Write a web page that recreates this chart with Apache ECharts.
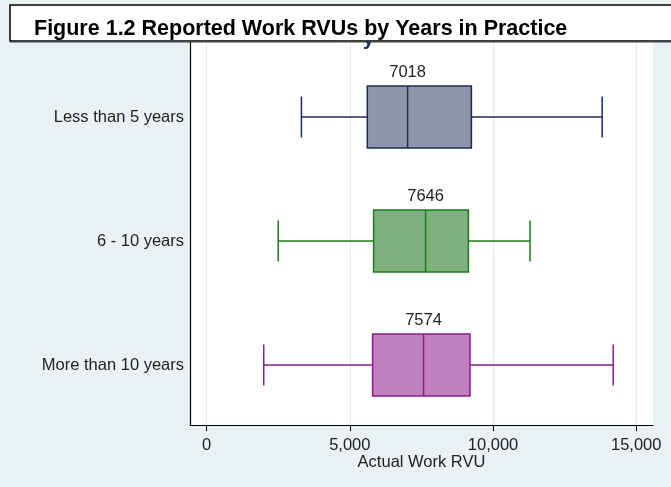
<!DOCTYPE html>
<html>
<head>
<meta charset="utf-8">
<script src="https://cdn.jsdelivr.net/npm/echarts@6/dist/echarts.min.js"></script>
<style>
html,body{margin:0;padding:0;background:#EAF1F3;}
#c{width:671px;height:487px;}
</style>
</head>
<body>
<div id="c"></div>
<script>
// ---- data ----
var categories = ['Less than 5 years', '6 - 10 years', 'More than 10 years'];
var whiskerLow = [3310, 2500, 1995];
var q1 = [5610, 5830, 5795];
var median = [7018, 7646, 7574];
var q3 = [9245, 9140, 9195];
var whiskerHigh = [13810, 11290, 14195];
var medianLabels = ['7018', '7646', '7574'];
var xTicks = [0, 5000, 10000, 15000];
var titleText = 'Figure 1.2 Reported Work RVUs by Years in Practice';
var xAxisTitle = 'Actual Work RVU';

var fills = ['#8F95A8', '#80B080', '#C080BE'];
var strokes = ['#1B2A58', '#1B7A1B', '#8E1C8C'];

var FONT = '"Liberation Sans", Arial, sans-serif';
var X_MIN = -580, X_MAX = 15585;

var data = categories.map(function (c, i) {
  return [i, whiskerLow[i], q1[i], median[i], q3[i], whiskerHigh[i]];
});

var chart = echarts.init(document.getElementById('c'), null, {renderer: 'canvas'});

var option = {
  backgroundColor: '#EAF1F3',
  animation: false,
  grid: [
    {left: 190, right: 18, top: 40, bottom: 62, show: true, backgroundColor: '#ffffff', borderWidth: 0, containLabel: false},
    {left: 190, right: 18, top: 55, bottom: 60, containLabel: false}
  ],
  xAxis: [
    {
      gridIndex: 0, type: 'value', min: X_MIN, max: X_MAX,
      name: xAxisTitle, nameLocation: 'middle', nameGap: 29, nameMoveOverlap: false,
      nameTextStyle: {fontFamily: FONT, fontSize: 16.5, color: '#222'},
      axisLine: {show: true, onZero: false, lineStyle: {color: '#000', width: 1.2}},
      axisTick: {show: true, length: 6, lineStyle: {color: '#000'}, customValues: xTicks},
      axisLabel: {
        customValues: xTicks, margin: 12, fontFamily: FONT, fontSize: 16.5, color: '#222',
        formatter: function (v) { return v.toLocaleString('en-US'); }
      },
      splitLine: {show: true, lineStyle: {color: '#E4ECEF', width: 1.2}}
    },
    {gridIndex: 1, type: 'value', min: X_MIN, max: X_MAX, show: false}
  ],
  yAxis: [
    {
      gridIndex: 0, type: 'value', min: 0, max: 1,
      axisLine: {show: true, onZero: false, lineStyle: {color: '#000', width: 1.2}},
      axisTick: {show: false}, axisLabel: {show: false}, splitLine: {show: false}
    },
    {
      gridIndex: 1, type: 'category', data: categories, inverse: true,
      axisLine: {show: false}, axisTick: {show: false},
      axisLabel: {fontFamily: FONT, fontSize: 16.5, color: '#222', margin: 6},
      splitLine: {show: false}
    }
  ],
  graphic: [
    {
      type: 'text', x: 363, y: 29, z: 90, silent: true,
      style: {text: 'y', font: 'bold 20px ' + FONT, fill: '#1B2A58'}
    },
    {
      type: 'rect', shape: {x: 10, y: 5, width: 680, height: 36}, z: 100,
      style: {fill: '#ffffff', stroke: '#000', lineWidth: 1.5}
    },
    {
      type: 'line', shape: {x1: 10, y1: 42, x2: 671, y2: 42}, z: 100,
      style: {stroke: '#444', lineWidth: 1}
    },
    {
      type: 'text', x: 34, y: 29, z: 101,
      style: {text: titleText, font: 'bold 21.5px ' + FONT, fill: '#000', verticalAlign: 'middle'}
    }
  ],
  series: [
    {
      type: 'custom',
      xAxisIndex: 1, yAxisIndex: 1,
      encode: {x: [1, 2, 3, 4, 5], y: 0},
      data: data,
      renderItem: function (params, api) {
        var idx = params.dataIndex;
        var cat = api.value(0);
        var pMin = api.coord([api.value(1), cat]);
        var pQ1 = api.coord([api.value(2), cat]);
        var pMed = api.coord([api.value(3), cat]);
        var pQ3 = api.coord([api.value(4), cat]);
        var pMax = api.coord([api.value(5), cat]);
        var band = api.size([0, 1])[1];
        var hb = band * 0.25;
        var hc = band * 0.165;
        var y = pMed[1];
        var st = {stroke: strokes[idx], lineWidth: 1.5, fill: null};
        return {
          type: 'group',
          children: [
            {type: 'line', shape: {x1: pMin[0], y1: y, x2: pQ1[0], y2: y}, style: st},
            {type: 'line', shape: {x1: pQ3[0], y1: y, x2: pMax[0], y2: y}, style: st},
            {type: 'line', shape: {x1: pMin[0], y1: y - hc, x2: pMin[0], y2: y + hc}, style: st},
            {type: 'line', shape: {x1: pMax[0], y1: y - hc, x2: pMax[0], y2: y + hc}, style: st},
            {type: 'rect', shape: {x: pQ1[0], y: y - hb, width: pQ3[0] - pQ1[0], height: 2 * hb},
              style: {fill: fills[idx], stroke: strokes[idx], lineWidth: 1.5}},
            {type: 'line', shape: {x1: pMed[0], y1: y - hb, x2: pMed[0], y2: y + hb}, style: st},
            {type: 'text', x: pMed[0], y: y - hb - 5,
              style: {text: medianLabels[idx], font: '16.5px ' + FONT, fill: '#222', align: 'center', verticalAlign: 'bottom'}}
          ]
        };
      }
    }
  ]
};
chart.setOption(option);
</script>
</body>
</html>
